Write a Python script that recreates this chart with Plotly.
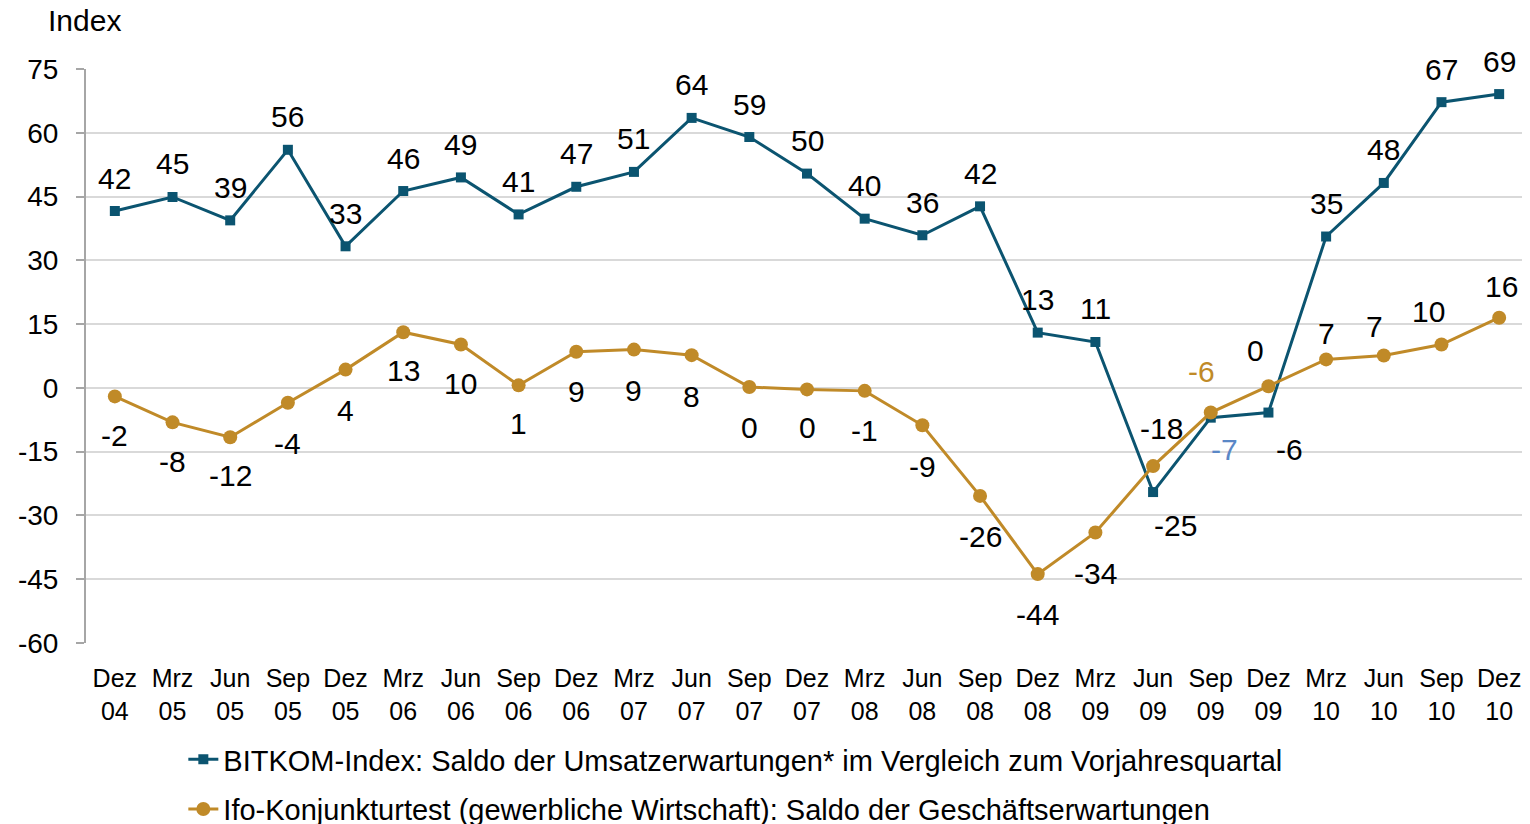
import plotly.graph_objects as go

quarters = ["Dez 04", "Mrz 05", "Jun 05", "Sep 05", "Dez 05", "Mrz 06", "Jun 06", "Sep 06",
            "Dez 06", "Mrz 07", "Jun 07", "Sep 07", "Dez 07", "Mrz 08", "Jun 08", "Sep 08",
            "Dez 08", "Mrz 09", "Jun 09", "Sep 09", "Dez 09", "Mrz 10", "Jun 10", "Sep 10", "Dez 10"]
tick_text = [q.replace(" ", "<br>") for q in quarters]

y_ticks = [-60, -45, -30, -15, 0, 15, 30, 45, 60, 75]
y_tick_text = [str(v) for v in y_ticks]

bitkom_values = [41.6, 44.9, 39.4, 56.0, 33.3, 46.3, 49.5, 40.8, 47.3, 50.8, 63.5, 59.0, 50.4,
                 39.8, 35.9, 42.7, 13.0, 10.8, -24.5, -7.0, -5.8, 35.6, 48.2, 67.2, 69.1]
bitkom_labels = ["42", "45", "39", "56", "33", "46", "49", "41", "47", "51", "64", "59", "50",
                 "40", "36", "42", "13", "11", "-25", "-7", "-6", "35", "48", "67", "69"]

ifo_values = [-2.0, -8.1, -11.6, -3.5, 4.3, 13.1, 10.2, 0.6, 8.5, 9.0, 7.7, 0.2, -0.35,
              -0.7, -8.8, -25.4, -43.8, -34.0, -18.4, -5.8, 0.4, 6.7, 7.6, 10.2, 16.5]
ifo_labels = ["-2", "-8", "-12", "-4", "4", "13", "10", "1", "9", "9", "8", "0", "0",
              "-1", "-9", "-26", "-44", "-34", "-18", "-6", "0", "7", "7", "10", "16"]

bitkom_name = "BITKOM-Index: Saldo der Umsatzerwartungen* im Vergleich zum Vorjahresquartal"
ifo_name = "Ifo-Konjunkturtest (gewerbliche Wirtschaft): Saldo der Geschäftserwartungen"

# label placement offsets in pixels (dx right, dy down)
bitkom_dx = [0] * 18 + [22, 14, 21] + [0] * 4
bitkom_dy = [-33] * 18 + [33, 32, 37] + [-33] * 4
ifo_dx = [0] * 18 + [8, -9, -13, 0, -9, -13, 2]
ifo_dy = [39, 39, 38, 41, 41, 38, 39, 38, 40, 41, 41, 40, 38, 40, 41, 41, 40, 41,
          -38, -41, -36, -26, -29, -33, -31]

BLUE = "#0B5470"
GOLD = "#C08A28"
GRID = "#D9D9D9"
AXIS = "#A6A6A6"
FONT = "Liberation Sans, Arial, sans-serif"

fig = go.Figure()
fig.add_trace(go.Scatter(
    x=quarters, y=bitkom_values, name=bitkom_name, mode="lines+markers",
    line=dict(color=BLUE, width=3), marker=dict(symbol="square", size=10, color=BLUE),
    legendgroup="a"))
fig.add_trace(go.Scatter(
    x=quarters, y=ifo_values, name=ifo_name, mode="lines+markers",
    line=dict(color=GOLD, width=3), marker=dict(symbol="circle", size=14, color=GOLD),
    legendgroup="b"))

label_colors_b = ["black"] * len(bitkom_labels)
label_colors_b[19] = "#5A87C6"
label_colors_i = ["black"] * len(ifo_labels)
label_colors_i[19] = GOLD

annotations = []
for q, v, t, dx, dy, c in zip(quarters, bitkom_values, bitkom_labels, bitkom_dx, bitkom_dy, label_colors_b):
    annotations.append(dict(x=q, y=v, text=t, showarrow=False, xshift=dx, yshift=-dy,
                            font=dict(size=30, color=c, family=FONT)))
for q, v, t, dx, dy, c in zip(quarters, ifo_values, ifo_labels, ifo_dx, ifo_dy, label_colors_i):
    annotations.append(dict(x=q, y=v, text=t, showarrow=False, xshift=dx, yshift=-dy,
                            font=dict(size=30, color=c, family=FONT)))
annotations.append(dict(xref="paper", yref="paper", x=-0.0277, y=1, xanchor="left",
                        yanchor="middle", yshift=49, text="Index", showarrow=False,
                        font=dict(size=30, color="black", family=FONT)))

fig.update_layout(
    template="none",
    width=1522, height=816,
    margin=dict(l=78, r=2, t=61, b=181, autoexpand=False),
    paper_bgcolor="white", plot_bgcolor="white",
    font=dict(family=FONT, color="black"),
    annotations=annotations,
    xaxis=dict(type="category", range=[-0.5, 24.5], tickvals=quarters, ticktext=tick_text,
               showgrid=False, showline=False, zeroline=False, ticks="", automargin=False,
               tickfont=dict(size=25, color="black"), ticklabelstandoff=18),
    xaxis2=dict(overlaying="x", anchor="free", position=60 / 135, range=[-0.5, 24.5],
                tickmode="linear", tick0=-0.5, dtick=1, ticks="outside", ticklen=7,
                tickcolor=AXIS, tickwidth=2, showline=True, linecolor=AXIS, linewidth=2,
                showticklabels=False, showgrid=False, zeroline=False, automargin=False),
    yaxis=dict(range=[-60, 75], tickmode="array", tickvals=y_ticks, ticktext=y_tick_text,
               showgrid=True, gridcolor=GRID, gridwidth=2, zeroline=False,
               showline=True, linecolor=AXIS, linewidth=2, automargin=False,
               ticks="outside", ticklen=8, tickcolor=AXIS, tickwidth=2,
               tickfont=dict(size=28, color="black"), ticklabelstandoff=12),
    legend=dict(x=0.0675, y=-0.1585, xanchor="left", yanchor="top",
                font=dict(size=29, color="black", family=FONT),
                tracegroupgap=9, traceorder="grouped", bgcolor="rgba(0,0,0,0)"),
    showlegend=True,
)

fig.write_html("out.html")
